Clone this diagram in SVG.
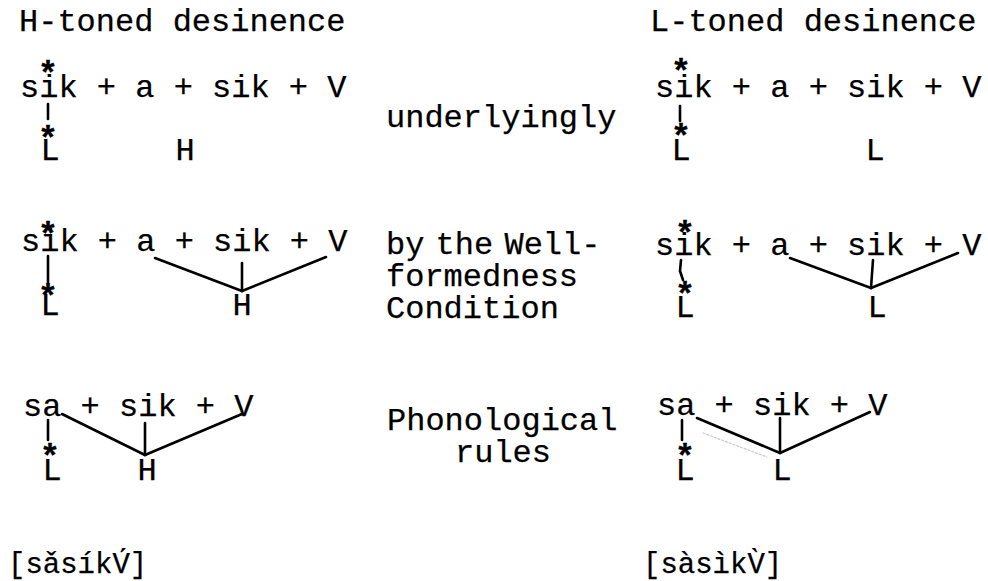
<svg xmlns="http://www.w3.org/2000/svg" width="988" height="581" viewBox="0 0 988 581">
<style>
  text { font-family: "Liberation Mono", "Courier New", monospace; font-size: 32px; fill: #000; stroke: #000; stroke-width: 0.25; }
  .star { font-size: 34px; font-weight: bold; text-anchor: middle; stroke-width: 0.3; }
  .tone { text-anchor: middle; }
  .ipa { font-size: 29px; }
  .lnk line, .lnk polyline { stroke: #000; stroke-width: 2.6; fill: none; stroke-linecap: round; stroke-linejoin: round; }
</style>
<rect width="988" height="581" fill="#fff"/>

<g id="header-H"><text x="19" y="31">H-toned desinence</text></g>
<g id="header-L"><text x="650" y="31">L-toned desinence</text></g>

<!-- Row 1 -->
<g id="r1-left">
  <text x="20" y="97">sik + a + sik + V</text>
  <text class="star" x="48" y="84">*</text>
  <text class="star" x="48" y="149">*</text>
  <text class="tone" x="50" y="160">L</text>
  <text class="tone" x="185" y="160">H</text>
</g>
<g id="r1-label"><text x="386" y="127">underlyingly</text></g>
<g id="r1-right">
  <text x="655" y="97">sik + a + sik + V</text>
  <text class="star" x="681" y="82">*</text>
  <text class="star" x="681" y="147">*</text>
  <text class="tone" x="681" y="160">L</text>
  <text class="tone" x="875" y="160">L</text>
</g>

<!-- Row 2 -->
<g id="r2-left">
  <text x="21" y="251">sik + a + sik + V</text>
  <text class="star" x="48" y="245">*</text>
  <text class="star" x="48" y="307">*</text>
  <text class="tone" x="50" y="315">L</text>
  <text class="tone" x="242" y="315">H</text>
</g>
<g id="r2-label">
  <text x="386" y="254" word-spacing="-8">by the Well-</text>
  <text x="386" y="286">formedness</text>
  <text x="386" y="318">Condition</text>
</g>
<g id="r2-right">
  <text x="655" y="255">sik + a + sik + V</text>
  <text class="star" x="685" y="244">*</text>
  <text class="star" x="685" y="305">*</text>
  <text class="tone" x="685" y="317">L</text>
  <text class="tone" x="877" y="317">L</text>
</g>

<!-- Row 3 -->
<g id="r3-left">
  <text x="23" y="416">sa + sik + V</text>
  <text class="star" x="50" y="467">*</text>
  <text class="tone" x="52" y="480">L</text>
  <text class="tone" x="147" y="480">H</text>
</g>
<g id="r3-label">
  <text x="387" y="430">Phonological</text>
  <text x="455" y="462">rules</text>
</g>
<g id="r3-right">
  <text x="657" y="415">sa + sik + V</text>
  <text class="star" x="685" y="467">*</text>
  <text class="tone" x="685" y="480">L</text>
  <text class="tone" x="782" y="480">L</text>
</g>

<!-- Surface forms -->
<g id="surface-H"><text class="ipa" x="8" y="573">[sǎsíkV́]</text></g>
<g id="surface-L"><text class="ipa" x="643" y="573">[sàsìkV̀]</text></g>

<!-- Association lines -->
<g id="connectors" class="lnk">
  <line x1="48" y1="104" x2="48" y2="119"/>
  <line x1="680" y1="106" x2="680" y2="121"/>

  <line x1="48" y1="256" x2="48" y2="282"/>
  <line x1="155" y1="258" x2="242" y2="291"/>
  <line x1="242" y1="263" x2="242" y2="291"/>
  <line x1="242" y1="291" x2="326" y2="257"/>

  <polyline points="681,260 680,271 683,280"/>
  <line x1="790" y1="258" x2="871" y2="288"/>
  <line x1="873" y1="260" x2="871" y2="288"/>
  <line x1="871" y1="288" x2="958" y2="253"/>

  <line x1="48" y1="420" x2="48" y2="440"/>
  <line x1="62" y1="414" x2="145" y2="455"/>
  <line x1="145" y1="423" x2="145" y2="455"/>
  <line x1="145" y1="455" x2="242" y2="414"/>

  <line x1="682" y1="420" x2="682" y2="440"/>
  <line x1="697" y1="418" x2="780" y2="453"/>
  <line x1="780" y1="418" x2="780" y2="453"/>
  <line x1="780" y1="453" x2="870" y2="412"/>
  <line x1="703" y1="433" x2="767" y2="457" style="stroke:#c8c8c8;stroke-width:1.2;stroke-dasharray:2 2"/>
</g>
</svg>
